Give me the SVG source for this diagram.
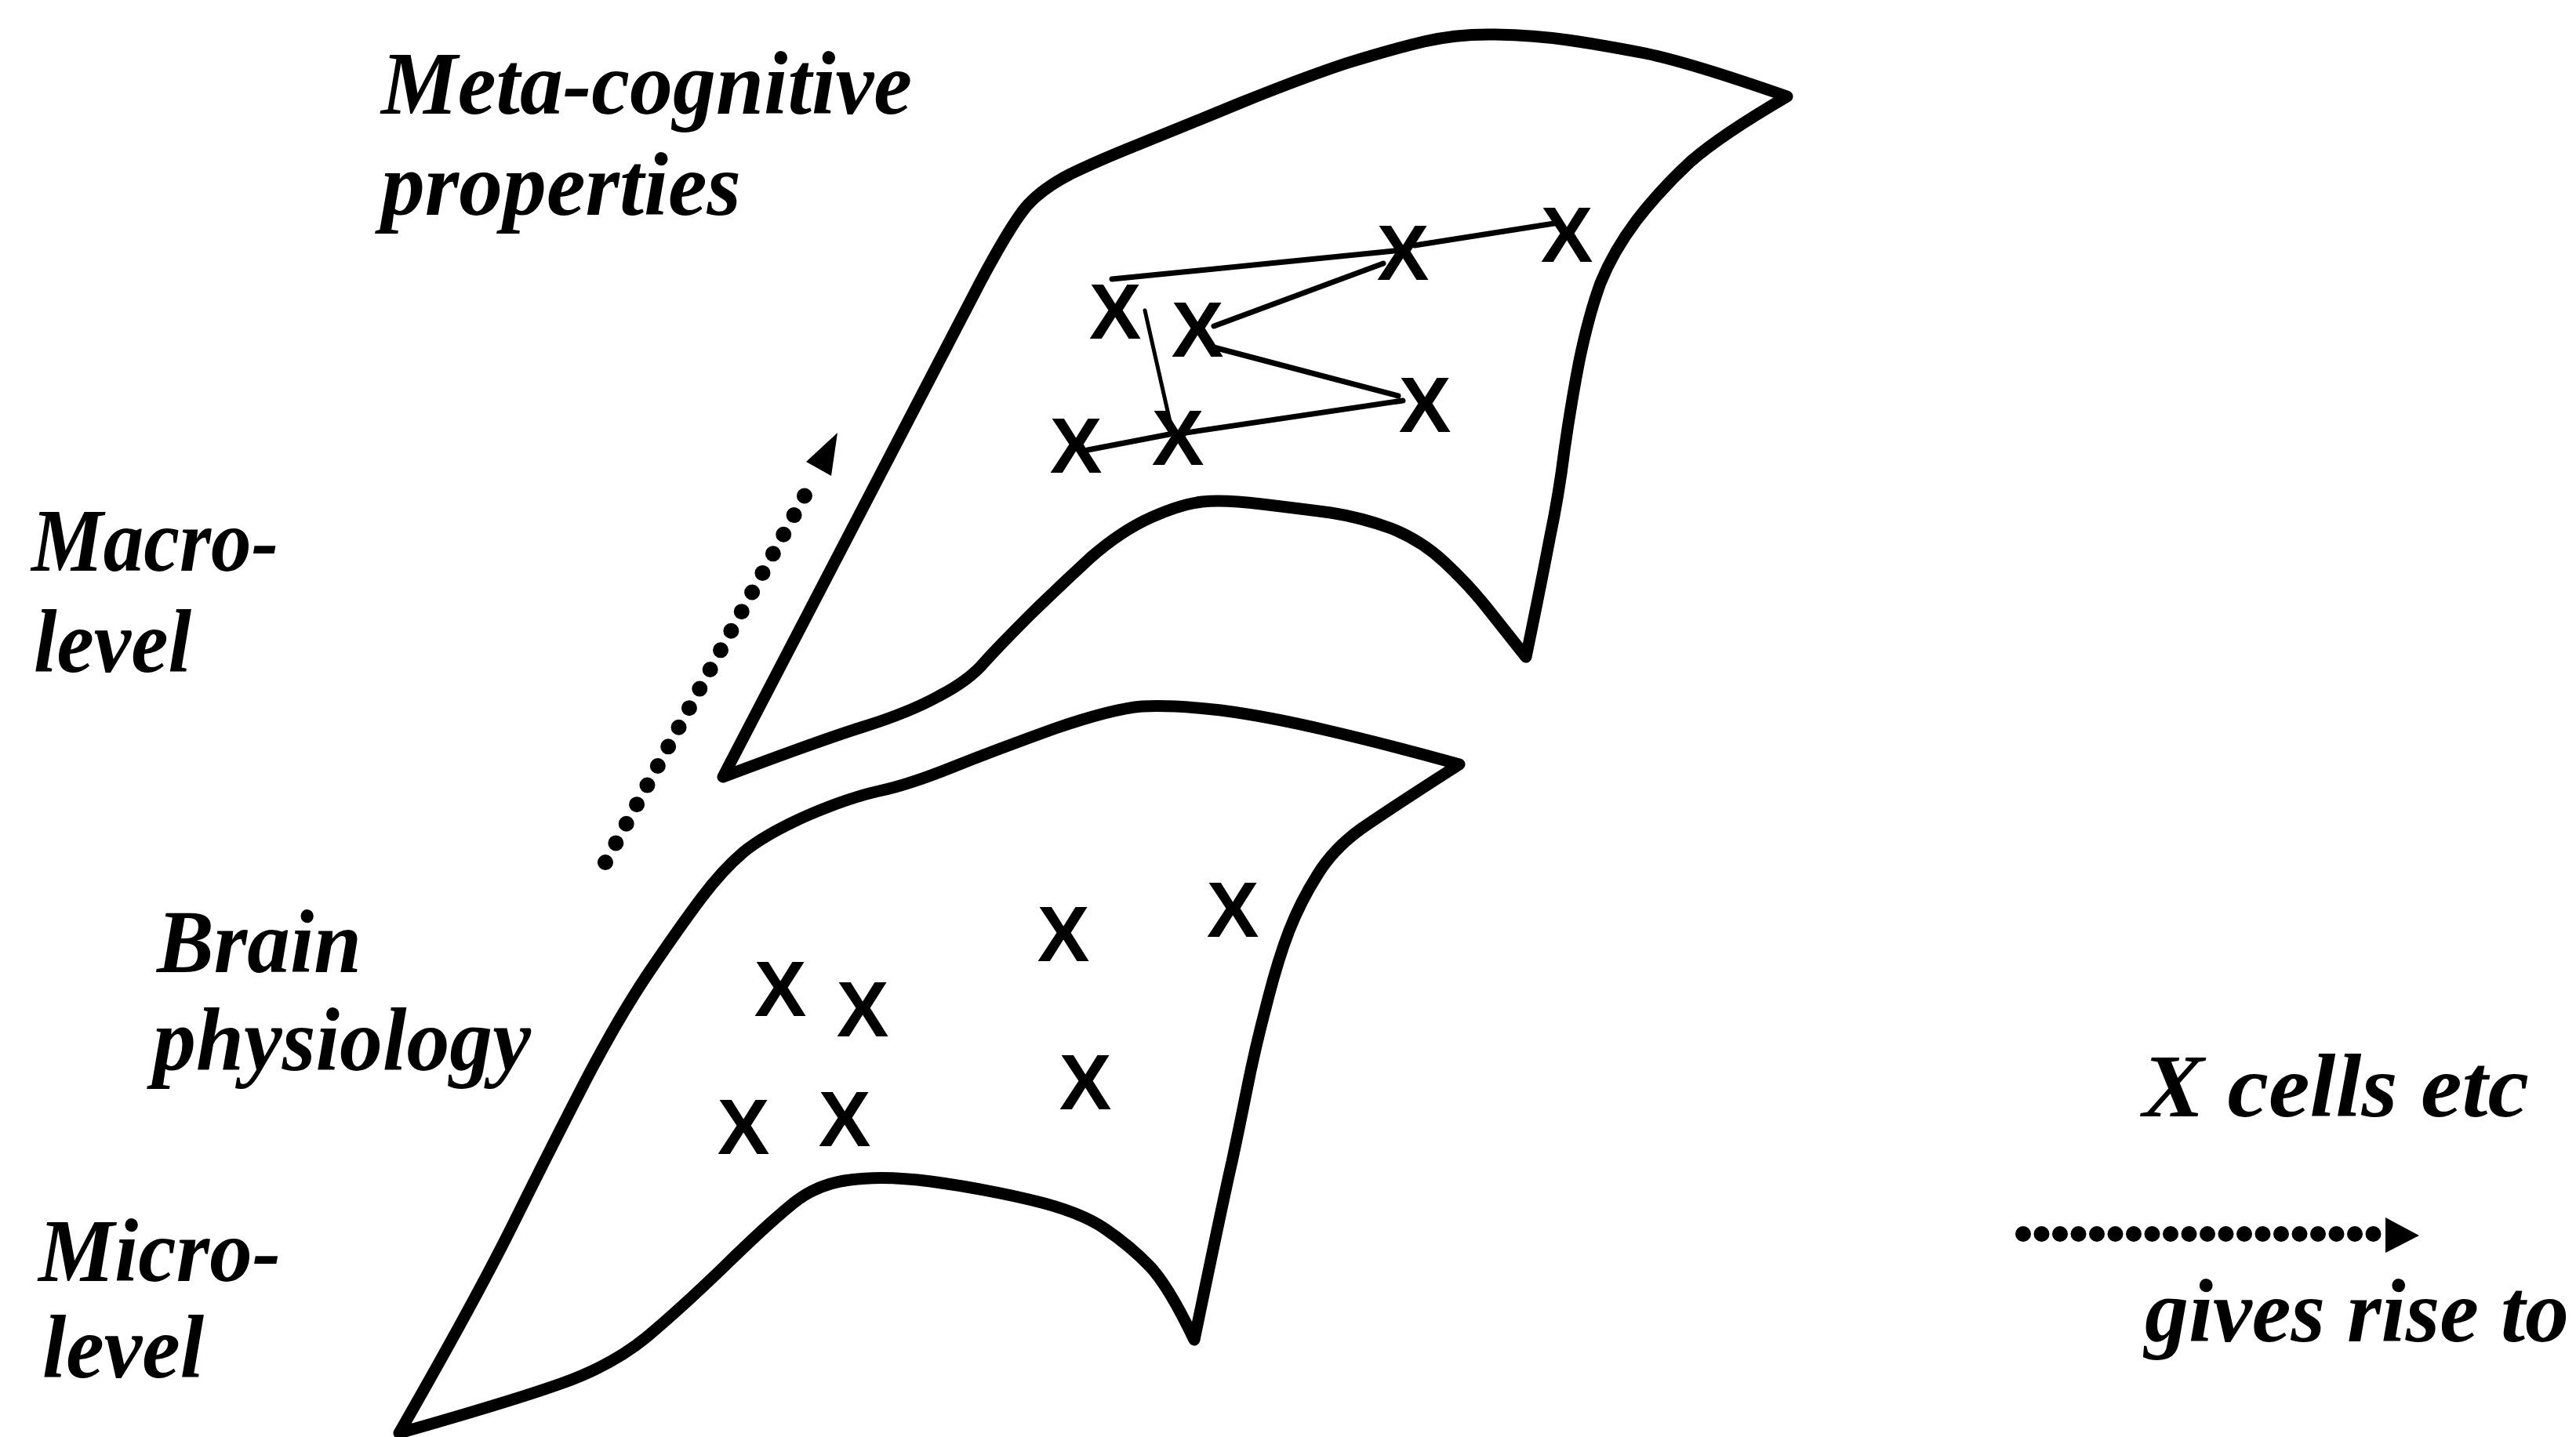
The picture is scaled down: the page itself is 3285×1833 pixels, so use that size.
<svg xmlns="http://www.w3.org/2000/svg" width="3285" height="1833" viewBox="0 0 3285 1833">
<style>
.sheet{fill:none;stroke:#000;stroke-width:15;stroke-linejoin:round;stroke-linecap:round}
.lbl{font-family:"Liberation Serif","Times New Roman",serif;font-weight:bold;font-style:italic;font-size:115px;fill:#000}
.xm{font-family:"Liberation Sans",Arial,sans-serif;font-weight:bold;font-size:100px;text-anchor:middle;fill:#000}
.link{stroke:#000;stroke-width:7;stroke-linecap:round;fill:none}
.dots{fill:none;stroke:#000;stroke-width:20;stroke-linecap:round}
.head{fill:#000}
</style>
<rect width="3285" height="1833" fill="#fff"/>
<g id="macro-sheet">
<path class="sheet" d="M 922,991 L 1250,360 Q 1290,285 1310,262 Q 1330,240 1365,222 Q 1400,205 1450,185 Q 1500,165 1580,132 Q 1659,100 1716,81 Q 1774,63 1816,53 Q 1858,43 1907,44 Q 1957,45 1999,51 Q 2041,57 2098,68 Q 2156,80 2279,123 Q 2195,172 2156,206 Q 2118,241 2087,281 Q 2057,321 2041,361 Q 2026,402 2014,460 Q 2003,517 1995,574 Q 1988,631 1976,688 Q 1965,746 1946,838 Q 1919,804 1896,775 Q 1873,746 1842,717 Q 1812,689 1774,674 Q 1736,660 1697,654 Q 1659,649 1609,643 Q 1560,637 1533,640 Q 1506,643 1468,660 Q 1430,677 1391,711 Q 1353,746 1315,783 Q 1277,821 1256,844 Q 1236,868 1197,888 Q 1159,909 1101,927 Q 1044,945 922,991 Z"/>
</g>
<g id="micro-sheet">
<path class="sheet" d="M 509,1828 Q 607,1657 656,1558 Q 705,1459 748,1376 Q 791,1294 829,1238 Q 867,1182 894,1146 Q 921,1110 948,1087 Q 976,1064 1030,1040 Q 1084,1017 1121,1009 Q 1159,1001 1216,978 Q 1274,955 1346,929 Q 1419,904 1457,901 Q 1496,899 1557,906 Q 1618,914 1694,932 Q 1771,950 1861,975 Q 1772,1032 1736,1057 Q 1700,1083 1680,1116 Q 1659,1149 1644,1187 Q 1629,1226 1615,1282 Q 1600,1339 1590,1390 Q 1580,1440 1571,1482 Q 1561,1525 1523,1709 Q 1490,1640 1466,1615 Q 1442,1590 1410,1568 Q 1377,1545 1312,1530 Q 1247,1515 1187,1507 Q 1127,1499 1084,1505 Q 1041,1510 1009,1537 Q 976,1564 922,1617 Q 867,1670 824,1706 Q 780,1742 715,1765 Q 650,1788 509,1828 Z"/>
</g>
<g id="connectors">
<line class="link" x1="1418" y1="356" x2="1778" y2="320"/>
<line class="link" x1="1804" y1="313" x2="1988" y2="284"/>
<line class="link" x1="1548" y1="416" x2="1764" y2="336"/>
<line class="link" x1="1544" y1="442" x2="1783" y2="505"/>
<line class="link" x1="1460" y1="396" x2="1495" y2="551" style="stroke-width:5"/>
<line class="link" x1="1506" y1="553" x2="1789" y2="511"/>
<line class="link" x1="1387" y1="574" x2="1491" y2="554"/>
<line class="dots" x1="772" y1="1100" x2="1036" y2="614" stroke-dasharray="0 28"/>
<polygon class="head" points="1068,552 1060,607 1028,589"/>
</g>
<g id="upper-cells">
<g id="u1"><text class="xm" x="1422" y="432">X</text></g>
<g id="u2"><text class="xm" x="1527" y="455">X</text></g>
<g id="u3"><text class="xm" x="1789" y="357">X</text></g>
<g id="u4"><text class="xm" x="1998" y="334">X</text></g>
<g id="u5"><text class="xm" x="1817" y="551">X</text></g>
<g id="u6"><text class="xm" x="1372" y="603">X</text></g>
<g id="u7"><text class="xm" x="1502" y="593">X</text></g>
</g>
<g id="lower-cells">
<g id="l1"><text class="xm" x="995" y="1296">X</text></g>
<g id="l2"><text class="xm" x="1100" y="1322">X</text></g>
<g id="l3"><text class="xm" x="948" y="1472">X</text></g>
<g id="l4"><text class="xm" x="1077" y="1462">X</text></g>
<g id="l5"><text class="xm" x="1356" y="1226">X</text></g>
<g id="l6"><text class="xm" x="1572" y="1195">X</text></g>
<g id="l7"><text class="xm" x="1384" y="1415">X</text></g>
</g>
<g id="labels">
<text class="lbl" x="486" y="145" textLength="677" lengthAdjust="spacingAndGlyphs">Meta-cognitive</text>
<text class="lbl" x="486" y="274" textLength="459" lengthAdjust="spacingAndGlyphs">properties</text>
<text class="lbl" x="40" y="728" textLength="315" lengthAdjust="spacingAndGlyphs">Macro-</text>
<text class="lbl" x="43" y="857" textLength="201" lengthAdjust="spacingAndGlyphs">level</text>
<text class="lbl" x="200" y="1240" textLength="261" lengthAdjust="spacingAndGlyphs">Brain</text>
<text class="lbl" x="195" y="1365" textLength="482" lengthAdjust="spacingAndGlyphs">physiology</text>
<text class="lbl" x="49" y="1634" textLength="309" lengthAdjust="spacingAndGlyphs">Micro-</text>
<text class="lbl" x="54" y="1757" textLength="206" lengthAdjust="spacingAndGlyphs">level</text>
</g>
<g id="legend">
<g id="legend-cells"><text class="lbl" x="2732" y="1424" textLength="493" lengthAdjust="spacingAndGlyphs">X  cells etc</text></g>
<g id="legend-arrow">
<line class="dots" x1="2580" y1="1574" x2="3032" y2="1574" stroke-dasharray="0 23.5"/>
<polygon class="head" points="3042,1553 3085,1576 3042,1598"/>
</g>
<g id="legend-gives"><text class="lbl" x="2735" y="1711" textLength="541" lengthAdjust="spacingAndGlyphs">gives rise to</text></g>
</g>
</svg>
